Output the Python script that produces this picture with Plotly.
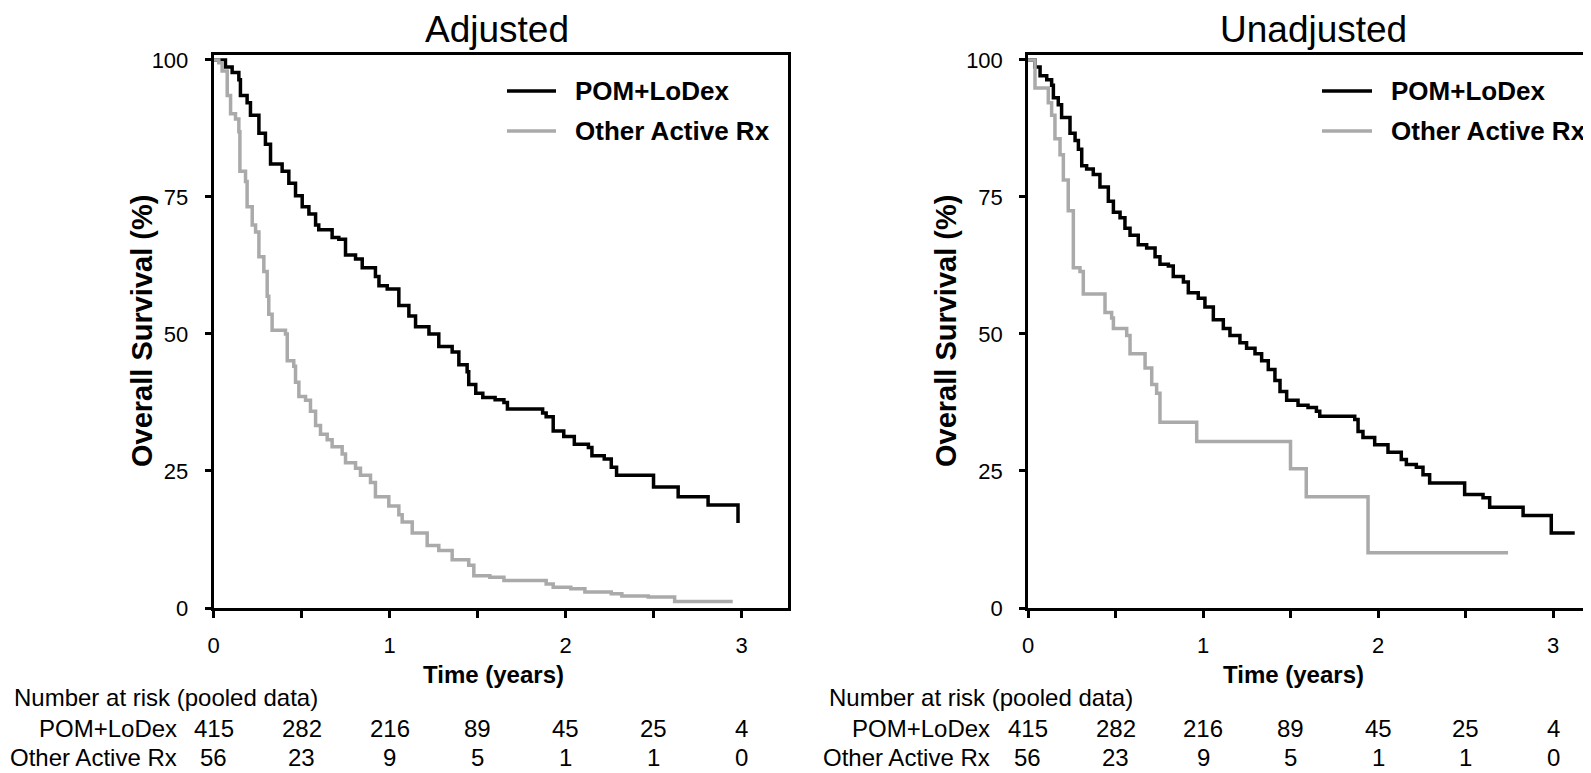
import plotly.graph_objects as go

# The page places the figure 8 px from the top-left corner of the 1591x773 window,
# so the figure is made 8 px smaller and positions are given in window pixels.
OFF = 8
W, H = 1591 - OFF, 773 - OFF

# ---------------- data ----------------
series_names = ["POM+LoDex", "Other Active Rx"]

adj_pom_t = [0, 0.068, 0.106, 0.144, 0.153, 0.191, 0.21, 0.258, 0.295, 0.324, 0.39, 0.428, 0.466,
             0.504, 0.542, 0.58, 0.598, 0.674, 0.712, 0.75, 0.807, 0.845, 0.92, 0.94, 0.987, 1.053,
             1.11, 1.148, 1.224, 1.28, 1.356, 1.394, 1.441, 1.45, 1.49, 1.53, 1.60, 1.65, 1.67,
             1.87, 1.89, 1.93, 1.99, 2.05, 2.13, 2.15, 2.22, 2.26, 2.29, 2.50, 2.64, 2.81, 2.98]
adj_pom_s = [100, 98.7, 97.7, 96.4, 93.5, 92.2, 89.9, 86.6, 84.6, 81.0, 79.7, 77.5, 75.2,
             73.2, 71.9, 69.9, 69.0, 67.6, 67.3, 64.4, 63.7, 62.1, 60.5, 58.8, 58.2, 55.2,
             53.3, 51.3, 50.0, 47.7, 46.7, 44.4, 43.1, 40.8, 39.2, 38.4, 38.0, 37.5, 36.3,
             35.6, 34.9, 32.3, 31.3, 29.9, 29.3, 27.8, 27.2, 25.7, 24.2, 22.1, 20.3, 18.8, 15.5]

adj_oth_t = [0, 0.03, 0.049, 0.078, 0.097, 0.125, 0.144, 0.15, 0.182, 0.191, 0.22, 0.239, 0.258,
             0.286, 0.305, 0.314, 0.333, 0.409, 0.419, 0.456, 0.466, 0.485, 0.523, 0.551, 0.58,
             0.608, 0.646, 0.674, 0.731, 0.75, 0.807, 0.835, 0.892, 0.92, 0.996, 1.053, 1.072,
             1.129, 1.214, 1.28, 1.356, 1.45, 1.479, 1.57, 1.65, 1.89, 1.93, 2.03, 2.11, 2.26,
             2.32, 2.47, 2.62, 2.95]
adj_oth_s = [100, 99.5, 98.0, 93.5, 90.2, 89.2, 86.9, 79.7, 77.8, 73.2, 69.9, 68.6, 64.1,
             61.4, 56.9, 53.6, 50.7, 50.0, 45.1, 44.1, 41.2, 38.6, 37.9, 35.9, 33.3,
             31.7, 30.7, 29.4, 28.1, 26.5, 25.5, 24.2, 22.9, 20.3, 18.6, 17.0, 15.7,
             13.7, 11.4, 10.5, 8.8, 7.8, 5.9, 5.6, 5.0, 4.4, 3.8, 3.5, 2.9, 2.6,
             2.2, 2.0, 1.2, 1.2]

unadj_pom_t = [0, 0.04, 0.069, 0.107, 0.135, 0.145, 0.173, 0.192, 0.24, 0.269, 0.288, 0.307, 0.335,
               0.373, 0.411, 0.459, 0.488, 0.526, 0.554, 0.583, 0.63, 0.678, 0.726, 0.754, 0.802,
               0.83, 0.888, 0.916, 0.973, 1.011, 1.059, 1.116, 1.154, 1.211, 1.249, 1.297, 1.335,
               1.373, 1.411, 1.44, 1.478, 1.543, 1.60, 1.648, 1.667, 1.867, 1.886, 1.914, 1.981,
               2.057, 2.133, 2.162, 2.219, 2.257, 2.295, 2.495, 2.60, 2.638, 2.829, 2.99, 3.124]
unadj_pom_s = [100, 98.7, 97.1, 96.4, 95.4, 93.1, 91.8, 89.5, 86.6, 85.3, 83.7, 80.7, 80.1,
               79.1, 76.8, 74.2, 72.2, 71.2, 69.3, 68.0, 66.3, 65.7, 64.1, 62.7, 62.4,
               60.5, 59.5, 57.5, 56.5, 54.9, 52.6, 51.0, 49.7, 48.4, 47.4, 46.4, 45.1,
               43.5, 41.5, 39.5, 37.9, 37.0, 36.6, 35.9, 35.0, 34.4, 32.2, 31.1, 29.8,
               28.4, 27.1, 26.2, 25.7, 24.3, 22.8, 20.7, 20.1, 18.4, 16.9, 13.7, 13.7]

unadj_oth_t = [0, 0.04, 0.116, 0.135, 0.154, 0.183, 0.202, 0.23, 0.259, 0.297, 0.316, 0.44, 0.478,
               0.488, 0.564, 0.583, 0.669, 0.707, 0.735, 0.754, 0.964, 1.50, 1.59, 1.943, 2.743]
unadj_oth_s = [100, 94.9, 92.2, 89.9, 85.6, 82.7, 78.1, 72.5, 62.1, 61.4, 57.3, 53.9, 52.9,
               51.0, 49.7, 46.4, 43.8, 40.8, 39.2, 33.9, 30.4, 25.4, 20.3, 10.1, 10.1]

risk_times = [0, 0.5, 1, 1.5, 2, 2.5, 3]
risk_pom = [415, 282, 216, 89, 45, 25, 4]
risk_oth = [56, 23, 9, 5, 1, 1, 0]

panel_titles = ["Adjusted", "Unadjusted"]
y_ticks = [0, 25, 50, 75, 100]
x_ticks = [0, 0.5, 1, 1.5, 2, 2.5, 3]
x_ticktext = ["0", "", "1", "", "2", "", "3"]

# ---------------- style ----------------
BLACK = "#000000"
GREY = "#AAAAAA"
COLORS = [BLACK, GREY]
SANS = "Liberation Sans, Arial, sans-serif"


def px_x(p):
    return (p - OFF) / W


def px_y(p):
    return 1 - (p - OFF) / H


fig = go.Figure()

panels = [
    ("x", "y", adj_pom_t, adj_pom_s, adj_oth_t, adj_oth_s),
    ("x2", "y2", unadj_pom_t, unadj_pom_s, unadj_oth_t, unadj_oth_s),
]
for xa, ya, pt, ps, ot, os_ in panels:
    fig.add_trace(go.Scatter(x=pt, y=ps, mode="lines", line=dict(color=COLORS[0], width=3.5, shape="hv"),
                             name=series_names[0], xaxis=xa, yaxis=ya, showlegend=False))
    fig.add_trace(go.Scatter(x=ot, y=os_, mode="lines", line=dict(color=COLORS[1], width=3.5, shape="hv"),
                             name=series_names[1], xaxis=xa, yaxis=ya, showlegend=False))

ydom = [px_y(608), px_y(55)]
axis_common = dict(showgrid=False, zeroline=False, showline=True, linewidth=2.5, linecolor=BLACK,
                   ticks="outside", tickwidth=2.5, tickcolor=BLACK, automargin=False,
                   tickfont=dict(family=SANS, size=22, color=BLACK))

fig.update_layout(
    width=W, height=H,
    margin=dict(l=0, r=0, t=0, b=0, autoexpand=False),
    paper_bgcolor="white", plot_bgcolor="white",
    showlegend=False,
    xaxis=dict(domain=[px_x(213.5), px_x(788)], range=[0, 3.264], tickvals=x_ticks, ticktext=x_ticktext,
               ticklen=7, mirror=True, ticklabelstandoff=9, **axis_common),
    yaxis=dict(domain=ydom, range=[0, 100.9], tickvals=y_ticks, ticklen=6, mirror=True,
               ticklabelstandoff=12, **axis_common),
    xaxis2=dict(domain=[px_x(1028), 1.0], range=[0, 3.217], tickvals=x_ticks, ticktext=x_ticktext,
                ticklen=7, mirror=True, ticklabelstandoff=9, anchor="y2", **axis_common),
    yaxis2=dict(domain=ydom, range=[0, 100.9], tickvals=y_ticks, ticklen=6, mirror=False,
                ticklabelstandoff=12, anchor="x2", **axis_common),
)

ann = []
shapes = []
# panel titles
for cx, title in zip([497, 1313], panel_titles):
    ann.append(dict(text=title, x=px_x(cx), y=px_y(29), xref="paper", yref="paper",
                    xanchor="center", yanchor="middle", showarrow=False,
                    font=dict(family=SANS, size=37, color=BLACK)))
# legends (line sample + bold label)
for lx0, lx1, tx in [(507, 556, 573), (1322, 1372, 1389)]:
    for row_y, name, col in zip([91, 131], series_names, COLORS):
        shapes.append(dict(type="line", xref="paper", yref="paper", x0=px_x(lx0), x1=px_x(lx1),
                           y0=px_y(row_y), y1=px_y(row_y), line=dict(color=col, width=3.5)))
        ann.append(dict(text="<b>%s</b>" % name, x=px_x(tx), y=px_y(row_y), xref="paper", yref="paper",
                        xanchor="left", yanchor="middle", showarrow=False,
                        font=dict(family=SANS, size=26, color=BLACK)))
# axis titles
for cx in [494, 1293]:
    ann.append(dict(text="<b>Time (years)</b>", x=px_x(cx), y=px_y(674), xref="paper", yref="paper",
                    xanchor="center", yanchor="middle", showarrow=False,
                    font=dict(family=SANS, size=24, color=BLACK)))
for cx in [142, 946]:
    ann.append(dict(text="<b>Overall Survival (%)</b>", x=px_x(cx), y=px_y(331), xref="paper",
                    yref="paper", xanchor="center", yanchor="middle", showarrow=False, textangle=-90,
                    font=dict(family=SANS, size=29, color=BLACK)))
# number at risk tables
for xa, head_x, lab_right in [("x", 12, 178), ("x2", 827, 991)]:
    ann.append(dict(text="Number at risk (pooled data)", x=px_x(head_x), y=px_y(697), xref="paper",
                    yref="paper", xanchor="left", yanchor="middle", showarrow=False,
                    font=dict(family=SANS, size=24, color=BLACK)))
    for row_y, name, counts in [(728, series_names[0], risk_pom), (757, series_names[1], risk_oth)]:
        ann.append(dict(text=name, x=px_x(lab_right), y=px_y(row_y), xref="paper", yref="paper",
                        xanchor="right", yanchor="middle", showarrow=False, borderpad=0,
                        font=dict(family=SANS, size=24, color=BLACK)))
        for t, c in zip(risk_times, counts):
            ann.append(dict(text=str(c), x=t, y=px_y(row_y), xref=xa, yref="paper",
                            xanchor="center", yanchor="middle", showarrow=False, borderpad=0,
                            font=dict(family=SANS, size=24, color=BLACK)))
fig.update_layout(annotations=ann, shapes=shapes)

fig.write_html("out.html")
